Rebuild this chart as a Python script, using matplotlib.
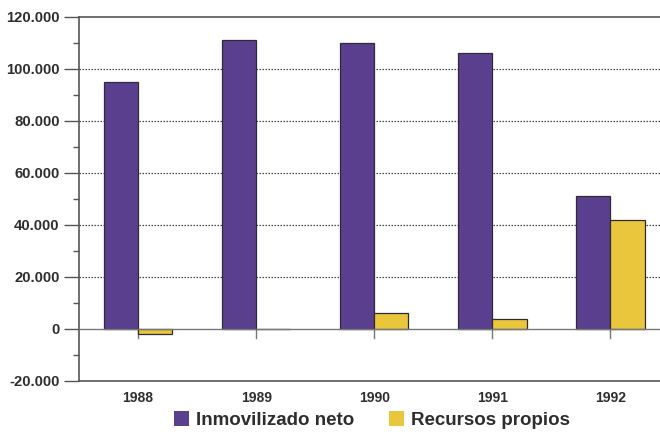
import matplotlib
matplotlib.use("Agg")
import matplotlib.pyplot as plt
from matplotlib.patches import Patch
from matplotlib.ticker import FuncFormatter, MultipleLocator

years = ["1988", "1989", "1990", "1991", "1992"]
inmovilizado = [95000, 111000, 110000, 106000, 51000]
recursos = [-2000, 0, 6000, 4000, 42000]
yticks = [-20000, 0, 20000, 40000, 60000, 80000, 100000, 120000]

purple = "#5b3f8f"
yellow = "#e9c63c"
edge = "#2e2a3a"
text_c = "#2e2e2e"

plt.rcParams["font.family"] = ["Liberation Sans", "DejaVu Sans"]
plt.rcParams["font.weight"] = "bold"

fig = plt.figure(figsize=(6.6, 4.32), dpi=100)
ax = fig.add_axes([79 / 660, (432 - 381) / 432, 1 - 79 / 660, (381 - 17) / 432])

x = list(range(len(years)))
w = 0.29
ax.bar([i - w / 2 for i in x], inmovilizado, width=w, color=purple,
       edgecolor=edge, linewidth=0.9, zorder=3)
ax.bar([i + w / 2 for i in x], recursos, width=w, color=yellow,
       edgecolor=edge, linewidth=0.9, zorder=3)

ax.set_xlim(-0.5, 4.42)
ax.set_ylim(-20000, 120000)

# gridlines (dotted) and a solid zero line
for v in yticks[2:-1]:
    ax.axhline(v, color="#444444", linestyle=(0, (1.2, 1.2)), linewidth=0.9, zorder=1)
ax.axhline(0, color="#777777", linewidth=1.0, zorder=4)

# category ticks hanging below the zero line
for i in x:
    ax.plot([i, i], [0, -3400], color="#777777", linewidth=1.0, zorder=2)

ax.set_yticks(yticks)
ax.yaxis.set_minor_locator(MultipleLocator(10000))
ax.yaxis.set_major_formatter(FuncFormatter(lambda v, p: f"{int(v):,}".replace(",", ".")))
ax.tick_params(axis="y", which="major", length=11, width=1.0, color="#555555",
               labelsize=10.7, labelcolor=text_c, pad=3)
ax.tick_params(axis="y", which="minor", length=4, width=1.0, color="#555555")

ax.set_xticks(x)
ax.set_xticklabels(years)
ax.tick_params(axis="x", length=0, labelsize=10, labelcolor=text_c, pad=7)

for s in ["top", "bottom", "left"]:
    ax.spines[s].set_color("#555555")
    ax.spines[s].set_linewidth(1.2)
ax.spines["right"].set_visible(False)

handles = [Patch(facecolor=purple, edgecolor="none"),
           Patch(facecolor=yellow, edgecolor="none")]
fig.legend(handles, ["Inmovilizado neto", "Recursos propios"], loc="center",
           bbox_to_anchor=(372 / 660, 12 / 432), ncol=2, frameon=False,
           prop={"size": 13.5, "weight": "bold"}, labelcolor=text_c,
           handlelength=0.8, handleheight=0.8, handletextpad=0.35,
           columnspacing=1.9, borderpad=0)

fig.savefig("out.png", dpi=100)
